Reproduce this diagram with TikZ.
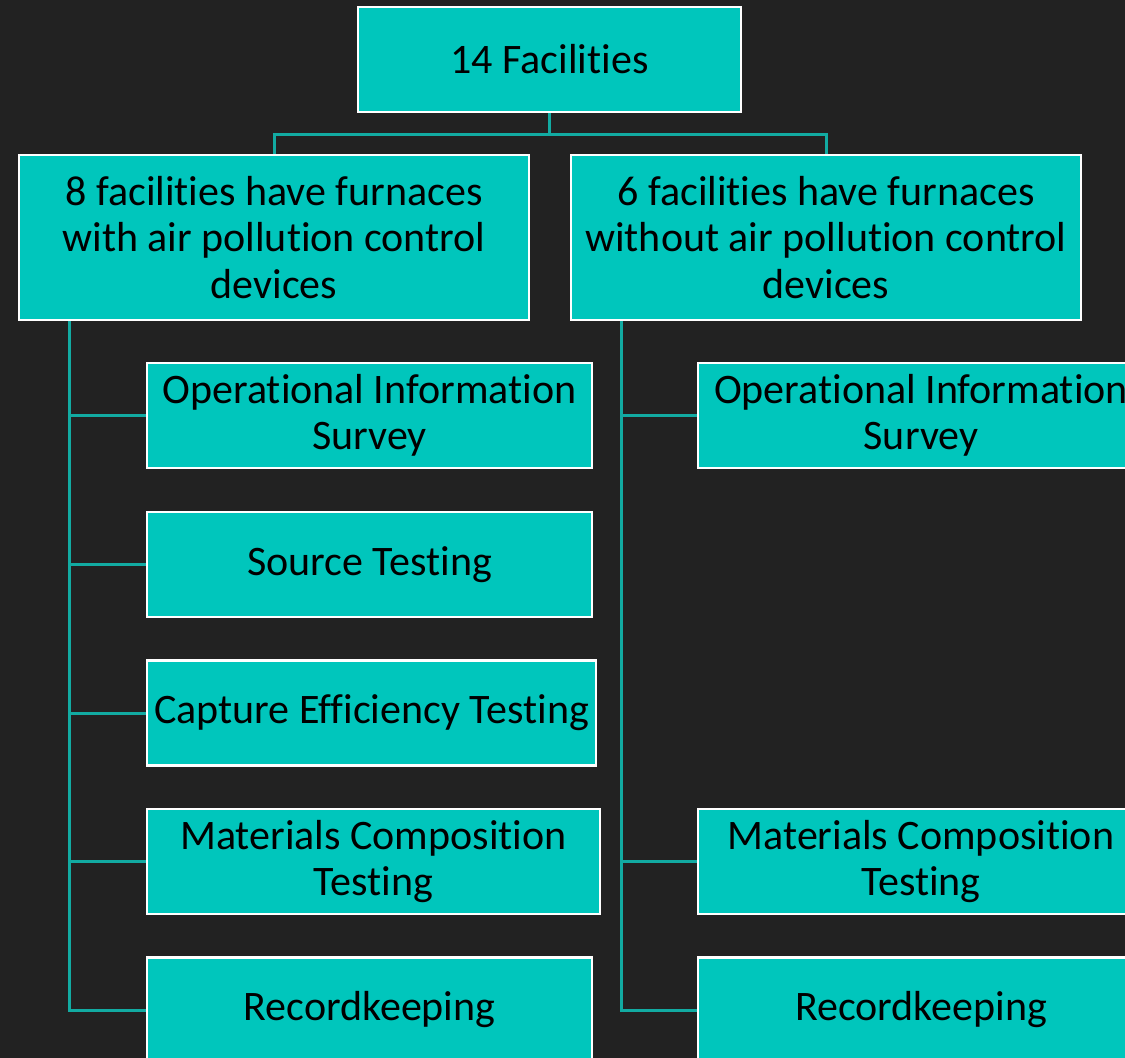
\documentclass[tikz,border=0pt]{standalone}
\usepackage{fontspec}
\setmainfont{Carlito}[Ligatures=NoCommon]
\definecolor{bg}{HTML}{222222}
\definecolor{boxfill}{HTML}{00C6BC}
\definecolor{linkc}{HTML}{12ABA2}
\begin{document}
\begin{tikzpicture}[x=1pt,y=-1pt,
  box/.style={rectangle, fill=boxfill, draw=white, line width=2.5pt, text=black,
    align=center, inner sep=0pt, font=\fontsize{42}{46.5}\selectfont},
  link/.style={draw=linkc, line width=3pt}]
\fill[bg] (0,0) rectangle (1125,1058);
\useasboundingbox (0,0) rectangle (1125,1058);
\clip (0,0) rectangle (1125,1058);

% root and the two groups
\node[box, minimum width=383pt, minimum height=105pt] (root) at (549.5,59.5) {14 Facilities};
\node[box, minimum width=510pt, minimum height=165pt] (ga) at (274,237.5)
  {8 facilities have furnaces\\with air pollution control\\devices};
\node[box, minimum width=510pt, minimum height=165pt] (gb) at (826,237.5)
  {6 facilities have furnaces\\without air pollution control\\devices};

% tasks of the first group
\node[box, minimum width=445pt, minimum height=105pt] (a1) at (369.5,415.5) {Operational Information\\Survey};
\node[box, minimum width=445pt, minimum height=105pt] (a2) at (369.5,564.5) {Source Testing};
\node[box, minimum width=449pt, minimum height=105pt] (a3) at (371.5,713) {Capture Efficiency Testing};
\node[box, minimum width=453pt, minimum height=105pt] (a4) at (373.5,861.5) {Materials Composition\\Testing};
\node[box, minimum width=445pt, minimum height=105pt] (a5) at (369.5,1010) {Recordkeeping};

% tasks of the second group
\node[box, minimum width=446pt, minimum height=105pt] (b1) at (921,415.5) {Operational Information\\Survey};
\node[box, minimum width=446pt, minimum height=105pt] (b4) at (921,861.5) {Materials Composition\\Testing};
\node[box, minimum width=446pt, minimum height=105pt] (b5) at (921,1010) {Recordkeeping};

% connectors
\draw[link] (root.south) -- ++(0,21) -| (ga.north);
\draw[link] (root.south) -- ++(0,21) -| (gb.north);
\foreach \t in {a1,a2,a3,a4,a5}
  \draw[link] ([xshift=52pt]ga.south west) |- (\t.west);
\foreach \t in {b1,b4,b5}
  \draw[link] ([xshift=52pt]gb.south west) |- (\t.west);
\end{tikzpicture}
\end{document}
